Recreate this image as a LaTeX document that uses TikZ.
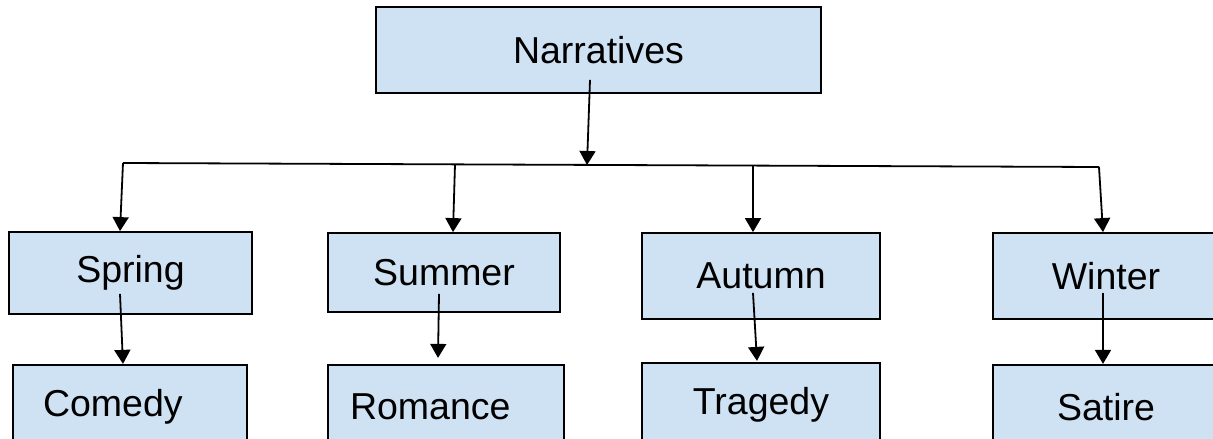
\documentclass[tikz,border=0pt]{standalone}
\usepackage{fontspec}
\setmainfont{Liberation Sans}
\usepackage{tikz}
\usetikzlibrary{arrows.meta, positioning}
\definecolor{boxblue}{RGB}{207,226,243}

\begin{document}
\begin{tikzpicture}[
    x=1pt, y=-1pt,
    node distance = 50pt,
    every node/.style = {font=\fontsize{37.5}{44}\selectfont},
    catbox/.style     = {draw, line width=1.8pt, fill=boxblue, inner sep=0pt,
                         minimum height=84pt, align=center},
    arr/.style        = {-{Triangle[length=14pt, width=16pt]}, line width=1.8pt},
    busline/.style    = {line width=1.8pt},
]
\clip (0,0) rectangle (1213,439);

% Root
\node[catbox, minimum width=445pt, minimum height=86pt] (narr) at (598.5,50) {Narratives};

% Seasons
\node[catbox, minimum width=243pt, minimum height=82pt] (spring) at (130.5,273) {Spring};
\node[catbox, minimum width=232pt, minimum height=79pt] (summer) at (444,272.5) {Summer};
\node[catbox, minimum width=238pt, minimum height=86pt] (autumn) at (761,276) {Autumn};
\node[catbox, minimum width=226pt, minimum height=86pt] (winter) at (1106,276) {Winter};

% Genres
\node[catbox, minimum width=234pt, below=49pt of spring, xshift=-0.5pt,
      text width=174pt, inner xsep=30pt, align=left] (comedy) {Comedy};
\node[catbox, minimum width=236pt, below=51pt of summer, xshift=2pt,
      text width=192pt, inner xsep=22pt, align=left] (romance) {Romance};
\node[catbox, minimum width=238pt, below=42pt of autumn] (tragedy) {Tragedy};
\node[catbox, minimum width=226pt, below=44pt of winter] (satire) {Satire};

% Bus
\coordinate (busW) at (123,163);
\coordinate (busSu) at (455,164.4);
\coordinate (hub) at (587,165);
\coordinate (busAu) at (753,165.7);
\coordinate (busE) at (1099,167);
\draw[busline] (busW) -- (busE);

% Root to bus
\draw[arr] ([xshift=-8.5pt, yshift=14pt]narr.south) -- (hub);

% Bus to seasons
\draw[arr] (busW) -- ([xshift=-10.5pt]spring.north);
\draw[arr] (busSu) -- ([xshift=9pt]summer.north);
\draw[arr] (busAu) -- ([xshift=-8pt]autumn.north);
\draw[arr] (busE) -- ([xshift=-3pt]winter.north);

% Seasons to genres
\draw[arr] ([xshift=-10.5pt, yshift=21pt]spring.south) -- ([xshift=-7pt]comedy.north);
\draw[arr] ([xshift=-5pt, yshift=19pt]summer.south) -- ([xshift=-8pt, yshift=6pt]romance.north);
\draw[arr] ([xshift=-8pt, yshift=27pt]autumn.south) -- ([xshift=-4pt, yshift=1pt]tragedy.north);
\draw[arr] ([xshift=-3pt, yshift=27pt]winter.south) -- ([xshift=-3pt]satire.north);

\end{tikzpicture}
\end{document}
